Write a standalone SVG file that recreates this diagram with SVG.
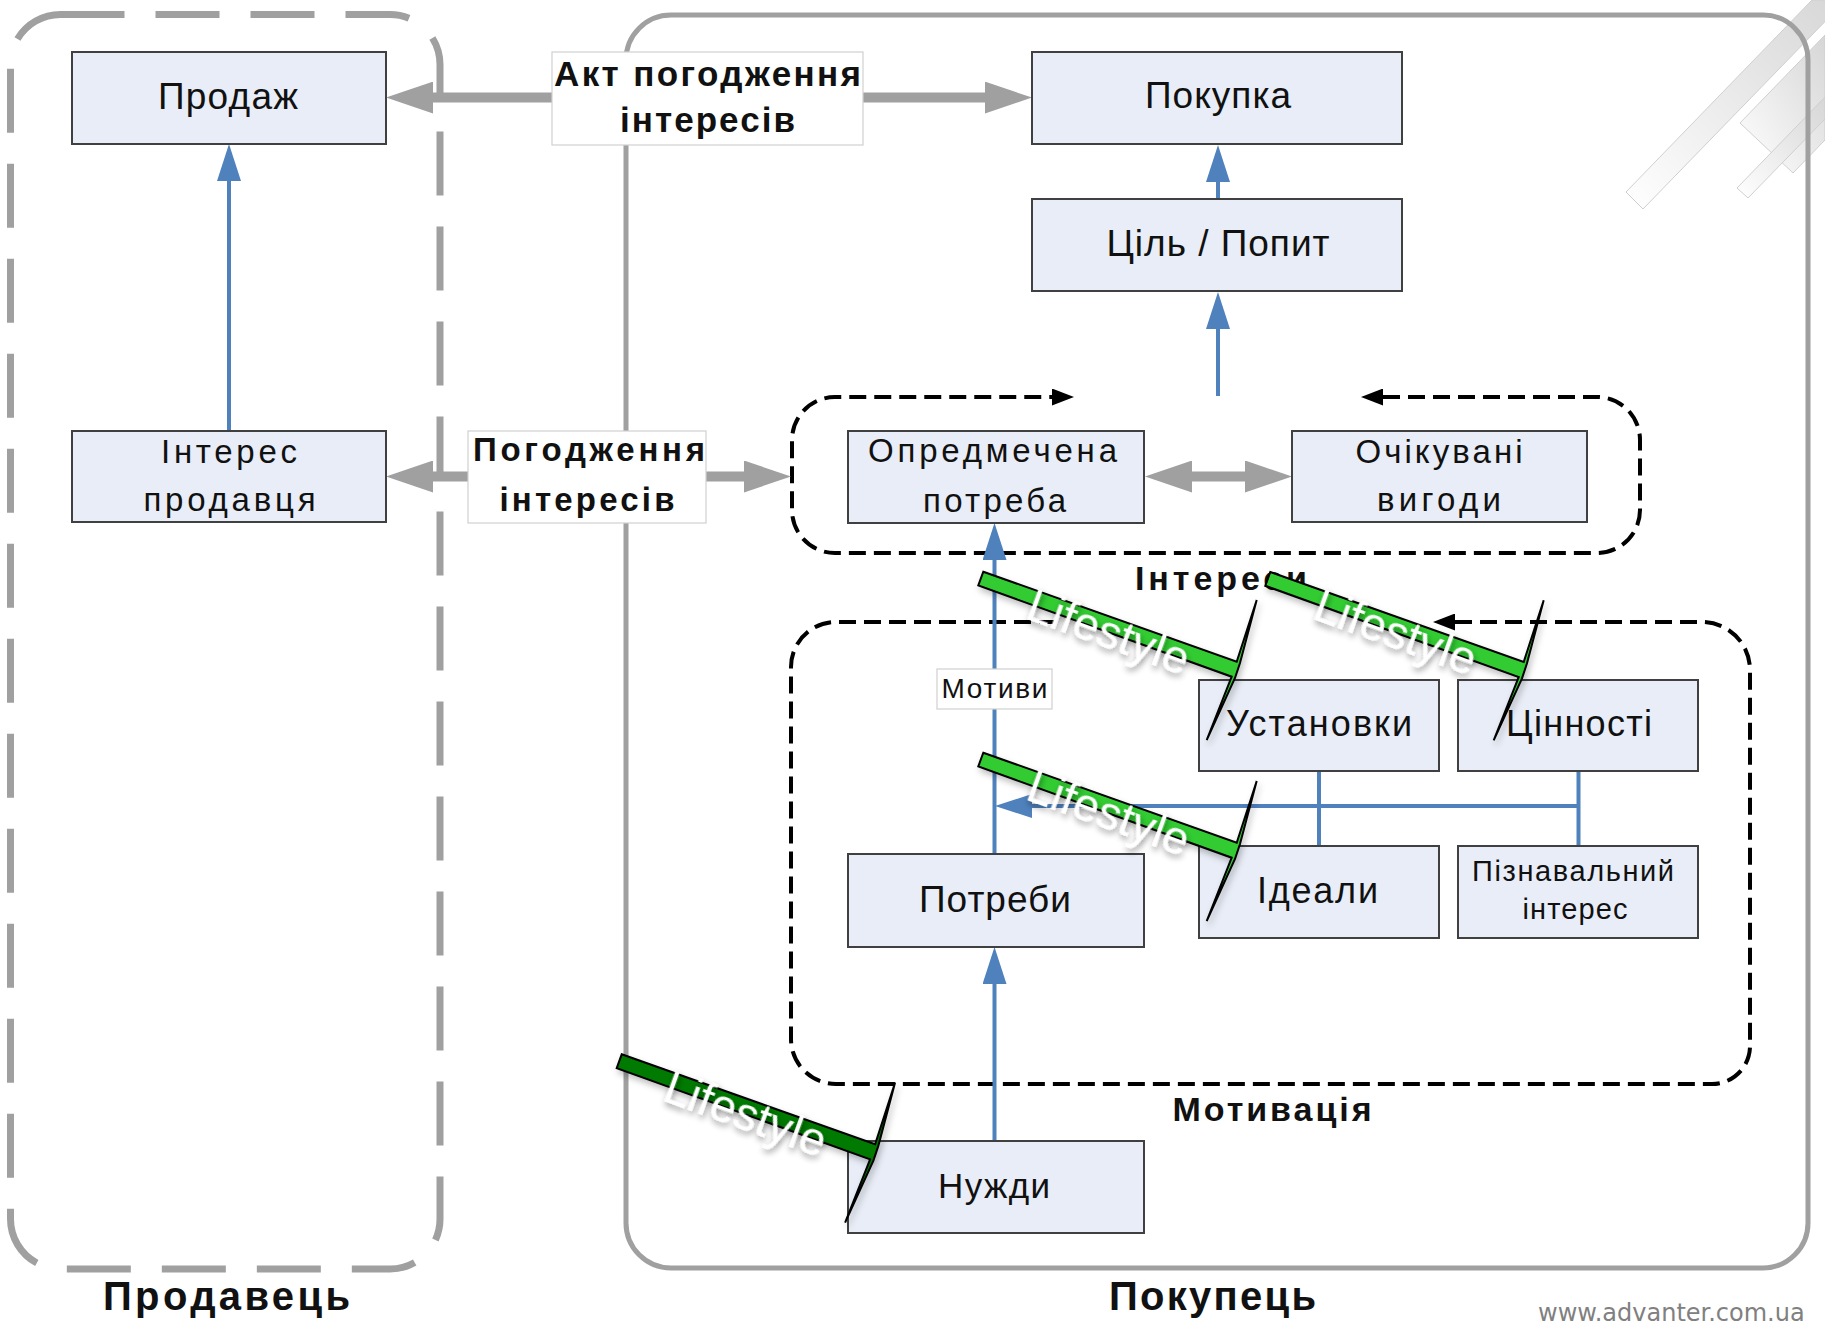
<svg xmlns="http://www.w3.org/2000/svg" width="1825" height="1325" viewBox="0 0 1825 1325">
<defs>
<style>
.node{fill:#E8EDF7;stroke:#404040;stroke-width:2}
.lbl{fill:#ffffff;stroke:#d0d0d0;stroke-width:1.2}
.t{font-family:"Liberation Sans",Arial,sans-serif;fill:#111;text-anchor:middle}
.tb{font-family:"Liberation Sans",Arial,sans-serif;font-weight:bold;fill:#111;text-anchor:middle}
.gray{stroke:#A0A0A0;stroke-width:10;fill:none}
.blue{stroke:#4F81BD;stroke-width:4;fill:none}
.loop{stroke:#000;stroke-width:4;stroke-dasharray:17 8;fill:none}
.life{font-family:"Liberation Sans",Arial,sans-serif;font-size:46px;fill:#fff}
.stripe{fill:url(#sg);stroke:#cfcfcf;stroke-width:1}
</style>
<linearGradient id="sg" x1="0" y1="1" x2="1" y2="0">
<stop offset="0" stop-color="#ffffff"/>
<stop offset="1" stop-color="#d6d6d6"/>
</linearGradient>
<marker id="ga" markerUnits="userSpaceOnUse" viewBox="0 0 47 32" markerWidth="47" markerHeight="32" refX="0" refY="16" orient="auto-start-reverse">
<path d="M0,0 L47,16 L0,32 Z" fill="#A0A0A0" stroke="none"/>
</marker>
<marker id="ba" markerUnits="userSpaceOnUse" viewBox="0 0 37 24" markerWidth="37" markerHeight="24" refX="0" refY="12" orient="auto-start-reverse">
<path d="M0,0 L37,12 L0,24 Z" fill="#4F81BD" stroke="none"/>
</marker>
<marker id="ka" markerUnits="userSpaceOnUse" viewBox="0 0 22 17" markerWidth="22" markerHeight="17" refX="0" refY="8.5" orient="auto-start-reverse">
<path d="M0,0 L22,8.5 L0,17 Z" fill="#000" stroke="none"/>
</marker>
<filter id="sh" x="-20%" y="-50%" width="140%" height="200%">
<feDropShadow dx="2" dy="3" stdDeviation="3" flood-color="#000" flood-opacity="0.45"/>
</filter>
<filter id="bsh" x="-10%" y="-30%" width="120%" height="160%">
<feDropShadow dx="2" dy="4" stdDeviation="3" flood-color="#000" flood-opacity="0.25"/>
</filter>
<path id="bar" d="M0,0 L253.4,90 L273.4,28.3 L256.7,91.3 L251.7,106.3 L223.4,168.3 L248.4,105 L-5,13.8 Z" stroke="#000" stroke-width="2" stroke-linejoin="miter"/>
</defs>

<g id="decoration">
<polygon class="stripe" points="1626,192 1812,0 1846,0 1643,209"/>
<polygon class="stripe" points="1740,123 1825,35 1825,140 1793,173"/>
<polygon class="stripe" points="1737,188 1825,97 1825,119 1748,198"/>
</g>

<g id="seller">
<rect x="10.5" y="14.5" width="429.5" height="1254.5" rx="50" fill="none" stroke="#A0A0A0" stroke-width="7" stroke-dasharray="64 31"/>
<text class="tb" x="226.5" y="1310" font-size="40" textLength="247" lengthAdjust="spacing">Продавець</text>
</g>

<g id="buyer">
<rect x="626" y="15" width="1182" height="1253" rx="45" fill="none" stroke="#A0A0A0" stroke-width="5"/>
<text class="tb" x="1212.5" y="1310" font-size="40" textLength="207" lengthAdjust="spacing">Покупець</text>
</g>

<g id="interests-group">
<path class="loop" d="M1383,397 L1597,397 A43,43 0 0 1 1640,440 L1640,510 A43,43 0 0 1 1597,553 L835,553 A43,43 0 0 1 792,510 L792,440 A43,43 0 0 1 835,397 L1052,397" marker-start="url(#ka)" marker-end="url(#ka)"/>
<text class="tb" x="1221" y="590" font-size="34" textLength="172" lengthAdjust="spacing">Інтереси</text>
</g>

<g id="motivation-group">
<path class="loop" d="M1455,622 L1702,622 A48,48 0 0 1 1750,670 L1750,1046 A38,38 0 0 1 1712,1084 L836,1084 A45,45 0 0 1 791,1039 L791,667 A45,45 0 0 1 836,622 L1062,622" marker-start="url(#ka)"/>
<text class="tb" x="1272" y="1121" font-size="34" textLength="199" lengthAdjust="spacing">Мотивація</text>
</g>

<g id="connectors">
<path class="gray" d="M552,97.6 L433,97.6" marker-end="url(#ga)"/>
<path class="gray" d="M863,97.6 L985,97.6" marker-end="url(#ga)"/>
<path class="gray" d="M468,476.5 L433,476.5" marker-end="url(#ga)"/>
<path class="gray" d="M706,476.5 L744,476.5" marker-end="url(#ga)"/>
<path class="gray" d="M1192,476.5 L1245,476.5" marker-start="url(#ga)" marker-end="url(#ga)"/>
<path class="blue" d="M229,431 L229,181" marker-end="url(#ba)"/>
<path class="blue" d="M1218,199 L1218,182" marker-end="url(#ba)"/>
<path class="blue" d="M1218,396 L1218,329" marker-end="url(#ba)"/>
<path class="blue" d="M994.5,1141 L994.5,984" marker-end="url(#ba)"/>
<path class="blue" d="M994.5,854 L994.5,560" marker-end="url(#ba)"/>
<path class="blue" d="M1578.5,806 L1032,806" marker-end="url(#ba)"/>
<path class="blue" d="M1319,771 L1319,846"/>
<path class="blue" d="M1578.5,771 L1578.5,846"/>
</g>

<g id="label-akt">
<rect class="lbl" x="552" y="52" width="311" height="93"/>
<text class="tb" x="707.5" y="86" font-size="35" textLength="307" lengthAdjust="spacing">Акт погодження</text>
<text class="tb" x="707.5" y="132" font-size="35" textLength="175" lengthAdjust="spacing">інтересів</text>
</g>
<g id="label-pogodzhennia">
<rect class="lbl" x="468" y="431" width="238" height="92"/>
<text class="tb" x="589" y="461" font-size="33" textLength="232" lengthAdjust="spacing">Погодження</text>
<text class="tb" x="587" y="511" font-size="33" textLength="175" lengthAdjust="spacing">інтересів</text>
</g>
<g id="label-motyvy">
<rect class="lbl" x="937" y="669" width="115" height="40"/>
<text class="t" x="994.5" y="698" font-size="28" textLength="106" lengthAdjust="spacing">Мотиви</text>
</g>

<g id="node-prodazh">
<rect class="node" x="72" y="52" width="314" height="92"/>
<text class="t" x="228" y="109" font-size="37" textLength="140" lengthAdjust="spacing">Продаж</text>
</g>
<g id="node-interes-prodavtsia">
<rect class="node" x="72" y="431" width="314" height="91"/>
<text class="t" x="229" y="463" font-size="33" textLength="136" lengthAdjust="spacing">Інтерес</text>
<text class="t" x="229.5" y="511" font-size="33" textLength="172" lengthAdjust="spacing">продавця</text>
</g>
<g id="node-pokupka">
<rect class="node" x="1032" y="52" width="370" height="92"/>
<text class="t" x="1218" y="108" font-size="37" textLength="146" lengthAdjust="spacing">Покупка</text>
</g>
<g id="node-tsil">
<rect class="node" x="1032" y="199" width="370" height="92"/>
<text class="t" x="1218" y="256" font-size="37" textLength="223" lengthAdjust="spacing">Ціль / Попит</text>
</g>
<g id="node-opredmechena">
<rect class="node" x="848" y="431" width="296" height="92"/>
<text class="t" x="992.5" y="462" font-size="33" textLength="249" lengthAdjust="spacing">Опредмечена</text>
<text class="t" x="994.5" y="512" font-size="33" textLength="143" lengthAdjust="spacing">потреба</text>
</g>
<g id="node-ochikuvani">
<rect class="node" x="1292" y="431" width="295" height="91"/>
<text class="t" x="1439" y="463" font-size="33" textLength="167" lengthAdjust="spacing">Очікувані</text>
<text class="t" x="1439" y="511" font-size="33" textLength="124" lengthAdjust="spacing">вигоди</text>
</g>
<g id="node-ustanovky">
<rect class="node" x="1199" y="680" width="240" height="91"/>
<text class="t" x="1319" y="736" font-size="36" textLength="186" lengthAdjust="spacing">Установки</text>
</g>
<g id="node-tsinnosti">
<rect class="node" x="1458" y="680" width="240" height="91"/>
<text class="t" x="1579" y="736" font-size="36" textLength="146" lengthAdjust="spacing">Цінності</text>
</g>
<g id="node-idealy">
<rect class="node" x="1199" y="846" width="240" height="92"/>
<text class="t" x="1317.5" y="903" font-size="36" textLength="121" lengthAdjust="spacing">Ідеали</text>
</g>
<g id="node-piznavalnyi">
<rect class="node" x="1458" y="846" width="240" height="92"/>
<text class="t" x="1573" y="881" font-size="29" textLength="202" lengthAdjust="spacing">Пізнавальний</text>
<text class="t" x="1575" y="919" font-size="29" textLength="105" lengthAdjust="spacing">інтерес</text>
</g>
<g id="node-potreby">
<rect class="node" x="848" y="854" width="296" height="93"/>
<text class="t" x="995" y="912" font-size="37" textLength="152" lengthAdjust="spacing">Потреби</text>
</g>
<g id="node-nuzhdy">
<rect class="node" x="848" y="1141" width="296" height="92"/>
<text class="t" x="994" y="1198" font-size="35" textLength="112" lengthAdjust="spacing">Нужди</text>
</g>

<g id="lifestyle-1">
<use href="#bar" x="983.3" y="571.7" fill="#33CC33" filter="url(#bsh)"/>
<text class="life" transform="translate(1024,618) rotate(20)" filter="url(#sh)">Lifestyle</text>
</g>
<g id="lifestyle-2">
<use href="#bar" x="1270.3" y="572" fill="#33CC33" filter="url(#bsh)"/>
<text class="life" transform="translate(1311,618.3) rotate(20)" filter="url(#sh)">Lifestyle</text>
</g>
<g id="lifestyle-3">
<use href="#bar" x="983.3" y="752.7" fill="#33CC33" filter="url(#bsh)"/>
<text class="life" transform="translate(1024,799) rotate(20)" filter="url(#sh)">Lifestyle</text>
</g>
<g id="lifestyle-4">
<use href="#bar" x="621.7" y="1054.3" fill="#007A00" filter="url(#bsh)"/>
<text class="life" transform="translate(661,1100) rotate(20)" filter="url(#sh)">Lifestyle</text>
</g>

<text x="1538" y="1321" font-family="DejaVu Sans, Verdana, sans-serif" font-size="24" fill="#808080">www.advanter.com.ua</text>
</svg>
